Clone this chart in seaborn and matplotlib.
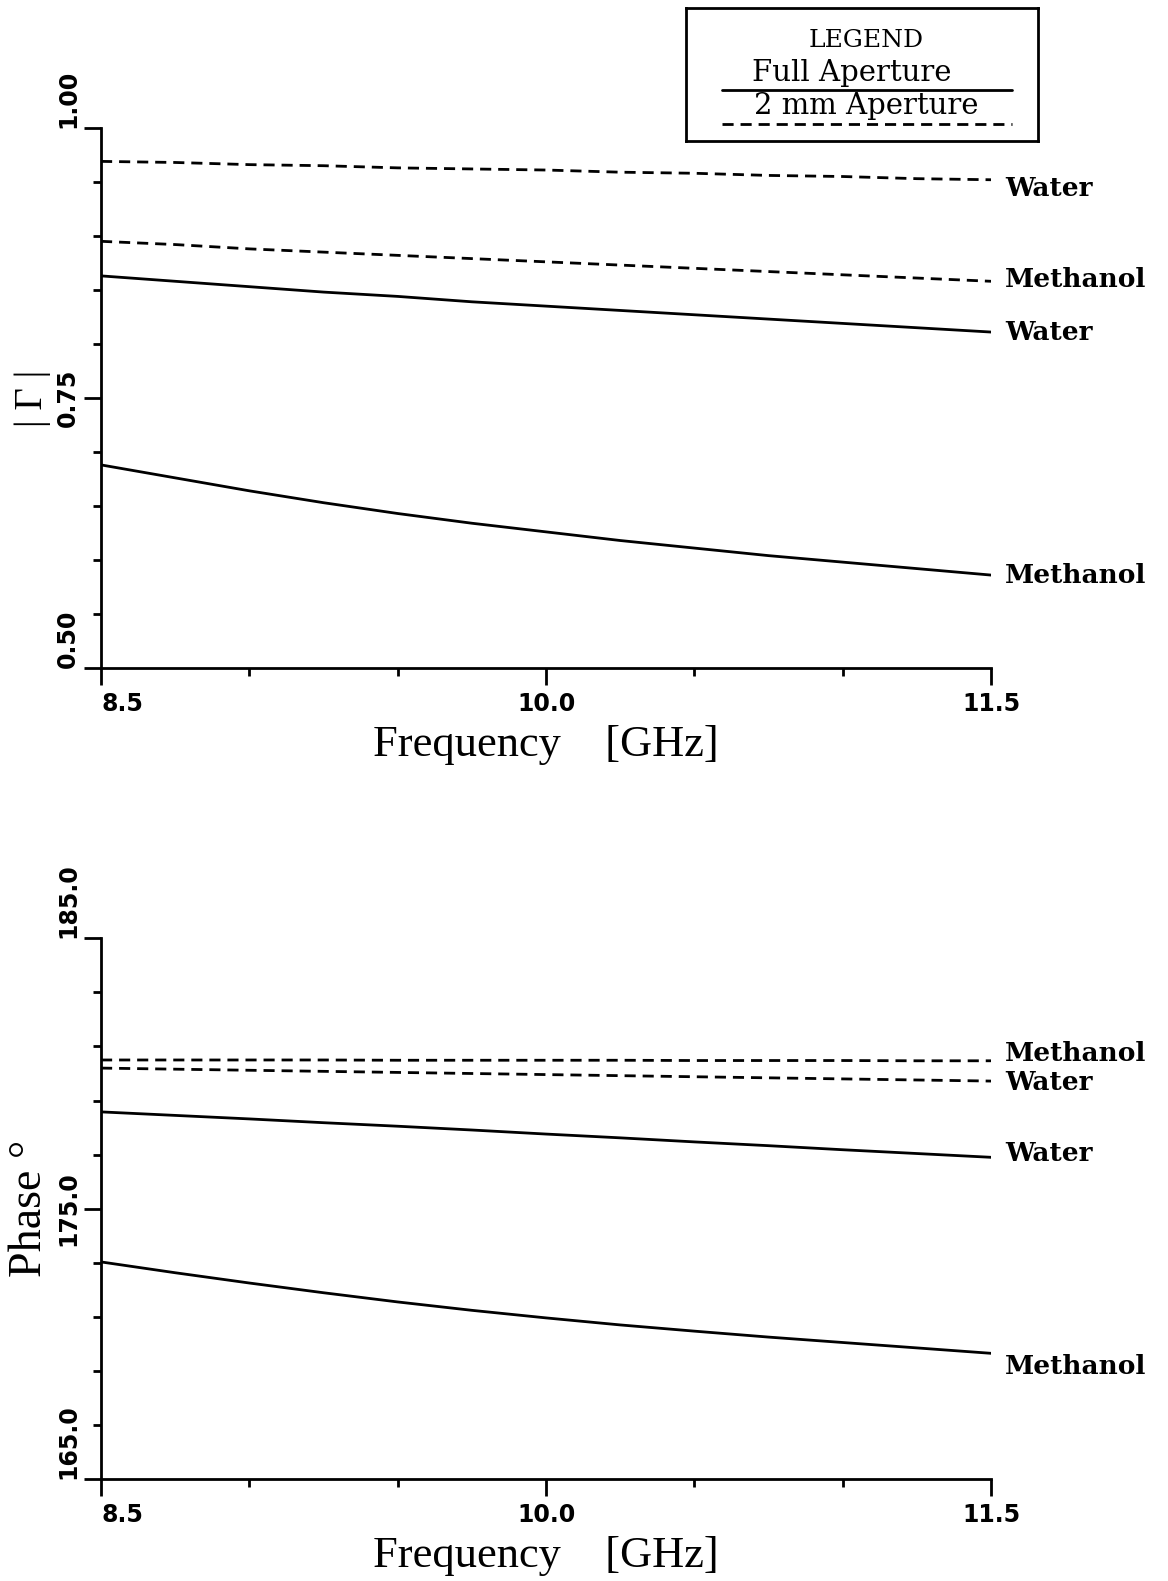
import numpy as np
import pandas as pd
import matplotlib
matplotlib.use('Agg')
import matplotlib.pyplot as plt
import seaborn as sns

# frequency points [GHz]
freq = [8.5, 8.75, 9.0, 9.25, 9.5, 9.75, 10.0, 10.25, 10.5, 10.75, 11.0, 11.25, 11.5]

# |Gamma| values
mag_water_full = [0.863, 0.858, 0.853, 0.848, 0.844, 0.839, 0.835, 0.831, 0.827, 0.823, 0.819, 0.815, 0.811]
mag_meth_full = [0.688, 0.676, 0.664, 0.653, 0.643, 0.634, 0.626, 0.618, 0.611, 0.604, 0.598, 0.592, 0.586]
mag_water_2mm = [0.969, 0.968, 0.966, 0.965, 0.963, 0.962, 0.961, 0.959, 0.958, 0.956, 0.955, 0.953, 0.952]
mag_meth_2mm = [0.895, 0.892, 0.888, 0.885, 0.882, 0.879, 0.876, 0.873, 0.870, 0.867, 0.864, 0.861, 0.858]

# phase values [deg]
ph_water_full = [178.58, 178.45, 178.32, 178.18, 178.05, 177.91, 177.76, 177.62, 177.47, 177.33, 177.18, 177.04, 176.90]
ph_meth_full = [173.03, 172.63, 172.25, 171.89, 171.55, 171.24, 170.96, 170.70, 170.47, 170.25, 170.05, 169.85, 169.65]
ph_water_2mm = [180.20, 180.16, 180.12, 180.08, 180.04, 180.00, 179.96, 179.92, 179.88, 179.84, 179.80, 179.76, 179.72]
ph_meth_2mm = [180.50, 180.50, 180.50, 180.50, 180.49, 180.49, 180.49, 180.49, 180.48, 180.48, 180.48, 180.47, 180.47]

sns.set_style('ticks')
plt.rcParams['font.family'] = ['DejaVu Sans']
for k in ['text.color', 'axes.edgecolor', 'axes.labelcolor', 'xtick.color', 'ytick.color']:
    plt.rcParams[k] = 'black'

DASH = (0, (4, 2.5))
LW = 2.0


def draw_panel(ax, series, ylim, yticks, ylabels, ylabel, ylabel_size):
    for vals, ls, name, dy in series:
        df = pd.DataFrame({'f': freq, 'v': vals})
        sns.lineplot(data=df, x='f', y='v', ax=ax, color='black', lw=LW, linestyle=ls)
        ax.annotate(name, xy=(freq[-1], vals[-1]), xytext=(10, dy), textcoords='offset points',
                    ha='left', va='center', fontsize=19, fontweight='bold',
                    family='DejaVu Serif', annotation_clip=False)
    ax.set_xlim(8.5, 11.5)
    ax.set_ylim(*ylim)
    ax.set_xticks([8.5, 10.0, 11.5])
    ax.set_xticks([9.0, 9.5, 10.5, 11.0], minor=True)
    ax.set_yticks(yticks)
    ax.set_yticks(np.linspace(ylim[0], ylim[1], 11), minor=True)
    ax.set_xticklabels(['8.5', '10.0', '11.5'], fontsize=17, fontweight='bold')
    ax.set_yticklabels(ylabels, fontsize=17, fontweight='bold', rotation=90)
    xl = ax.get_xticklabels()
    xl[0].set_ha('left')
    yl = ax.get_yticklabels()
    yl[0].set_va('bottom')
    yl[1].set_va('center')
    yl[2].set_va('bottom')
    ax.tick_params(which='major', direction='out', length=12, width=LW)
    ax.tick_params(axis='x', which='major', pad=5)
    ax.tick_params(axis='y', which='major', pad=3)
    ax.tick_params(which='minor', direction='out', length=6, width=LW)
    sns.despine(ax=ax)
    for s in ['left', 'bottom']:
        ax.spines[s].set_linewidth(LW)
    ax.set_xlabel('Frequency    [GHz]', family='Liberation Serif', fontsize=32, labelpad=7)
    ax.set_ylabel(ylabel, family='Liberation Serif', fontsize=ylabel_size, labelpad=4)


fig = plt.figure(figsize=(11.68, 15.81), dpi=100)
ax1 = fig.add_axes([0.0865, 0.5775, 0.762, 0.3416])
ax2 = fig.add_axes([0.0865, 0.0645, 0.762, 0.342])

draw_panel(ax1,
           [(mag_water_2mm, DASH, 'Water', -6.5),
            (mag_meth_2mm, DASH, 'Methanol', 1.5),
            (mag_water_full, '-', 'Water', 0),
            (mag_meth_full, '-', 'Methanol', 0)],
           (0.5, 1.0), [1.0, 0.75, 0.5], ['1.00', '0.75', '0.50'], '| \u0393 |', 28)

draw_panel(ax2,
           [(ph_meth_2mm, DASH, 'Methanol', 5),
            (ph_water_2mm, DASH, 'Water', -1),
            (ph_water_full, '-', 'Water', 3),
            (ph_meth_full, '-', 'Methanol', -9.5)],
           (165.0, 185.0), [185.0, 175.0, 165.0], ['185.0', '175.0', '165.0'], 'Phase \u00b0', 33)

# legend box
lax = fig.add_axes([0.587, 0.9108, 0.302, 0.0841])
lax.set_xlim(0, 1)
lax.set_ylim(0, 1)
lax.set_xticks([])
lax.set_yticks([])
for s in lax.spines.values():
    s.set_linewidth(LW)
    s.set_edgecolor('black')
lax.text(0.513, 0.757, 'LEGEND', ha='center', va='center', fontsize=18, family='DejaVu Serif')
lax.text(0.47, 0.514, 'Full Aperture', ha='center', va='center', fontsize=21, family='DejaVu Serif')
lax.plot([0.102, 0.926], [0.385, 0.385], color='black', lw=LW)
lax.text(0.513, 0.264, '2 mm Aperture', ha='center', va='center', fontsize=21, family='DejaVu Serif')
lax.plot([0.102, 0.926], [0.128, 0.128], color='black', lw=LW, linestyle=DASH)

fig.savefig('out.png', dpi=100)
